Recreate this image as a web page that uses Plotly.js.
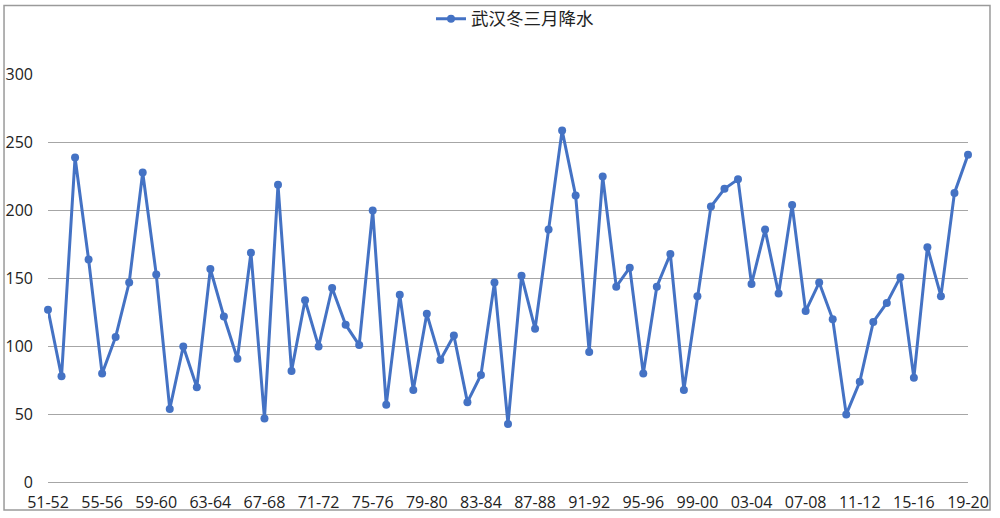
<!DOCTYPE html>
<html>
<head>
<meta charset="utf-8">
<script src="https://cdn.plot.ly/plotly-3.0.1.min.js"></script>
<style>
html,body{margin:0;padding:0;background:#fff;}
#chart{width:1000px;height:518px;}
</style>
</head>
<body>
<div id="chart"></div>
<script>
var seasons = ["51-52","52-53","53-54","54-55","55-56","56-57","57-58","58-59","59-60","60-61",
"61-62","62-63","63-64","64-65","65-66","66-67","67-68","68-69","69-70","70-71",
"71-72","72-73","73-74","74-75","75-76","76-77","77-78","78-79","79-80","80-81",
"81-82","82-83","83-84","84-85","85-86","86-87","87-88","88-89","89-90","90-91",
"91-92","92-93","93-94","94-95","95-96","96-97","97-98","98-99","99-00","00-01",
"01-02","02-03","03-04","04-05","05-06","06-07","07-08","08-09","09-10","10-11",
"11-12","12-13","13-14","14-15","15-16","16-17","17-18","18-19","19-20"];

var precipitation = [127,78,239,164,80,107,147,228,153,54,
100,70,157,122,91,169,47,219,82,134,
100,143,116,101,200,57,138,68,124,90,
108,59,79,147,43,152,113,186,259,211,
96,225,144,158,80,144,168,68,137,203,
216,223,146,186,139,204,126,147,120,50,
74,118,132,151,77,173,137,213,241];

var tickLabels = ["51-52","55-56","59-60","63-64","67-68","71-72","75-76","79-80","83-84","87-88","91-92","95-96","99-00","03-04","07-08","11-12","15-16","19-20"];
var yTicks = [0,50,100,150,200,250,300];
var seriesName = "武汉冬三月降水";

var trace = {
  x: seasons,
  y: precipitation,
  type: "scatter",
  mode: "lines+markers",
  name: seriesName,
  line: {color: "#4472C4", width: 3},
  marker: {color: "#4472C4", size: 8},
  cliponaxis: false,
  showlegend: true
};

var layout = {
  width: 1000,
  height: 518,
  margin: {l: 48, r: 32, t: 74, b: 35, autoexpand: false},
  paper_bgcolor: "#ffffff",
  plot_bgcolor: "#ffffff",
  font: {family: "Open Sans, Noto Sans CJK SC, sans-serif", size: 16, color: "#222222"},
  xaxis: {
    type: "category",
    range: [0, seasons.length - 1],
    tickmode: "array",
    tickvals: tickLabels,
    ticktext: tickLabels,
    showgrid: false,
    zeroline: false,
    showline: false,
    ticks: "",
    ticklabelstandoff: 8,
    tickfont: {size: 16, color: "#222222"}
  },
  yaxis: {
    range: [-0.5, 300.5],
    tickmode: "array",
    tickvals: yTicks,
    showgrid: true,
    gridcolor: "#a6a6a6",
    gridwidth: 1,
    zeroline: true,
    zerolinecolor: "#a6a6a6",
    zerolinewidth: 1,
    showline: false,
    ticks: "",
    ticklabelstandoff: 14,
    tickfont: {size: 16, color: "#222222"}
  },
  showlegend: true,
  legend: {
    orientation: "h",
    x: 0.4163,
    xanchor: "left",
    y: 1.135,
    yanchor: "middle",
    font: {size: 17.5, family: "Noto Sans CJK SC, sans-serif", color: "#222222"},
    bgcolor: "rgba(0,0,0,0)"
  },
  shapes: [{
    type: "rect",
    xref: "paper", yref: "paper",
    x0: -0.0478, x1: 1.0239, y0: -0.0660, y1: 1.1675,
    line: {color: "#9a9a9a", width: 1.5},
    fillcolor: "rgba(0,0,0,0)",
    layer: "below"
  }]
};

Plotly.newPlot("chart", [trace], layout, {displayModeBar: false, staticPlot: true});
</script>
</body>
</html>
